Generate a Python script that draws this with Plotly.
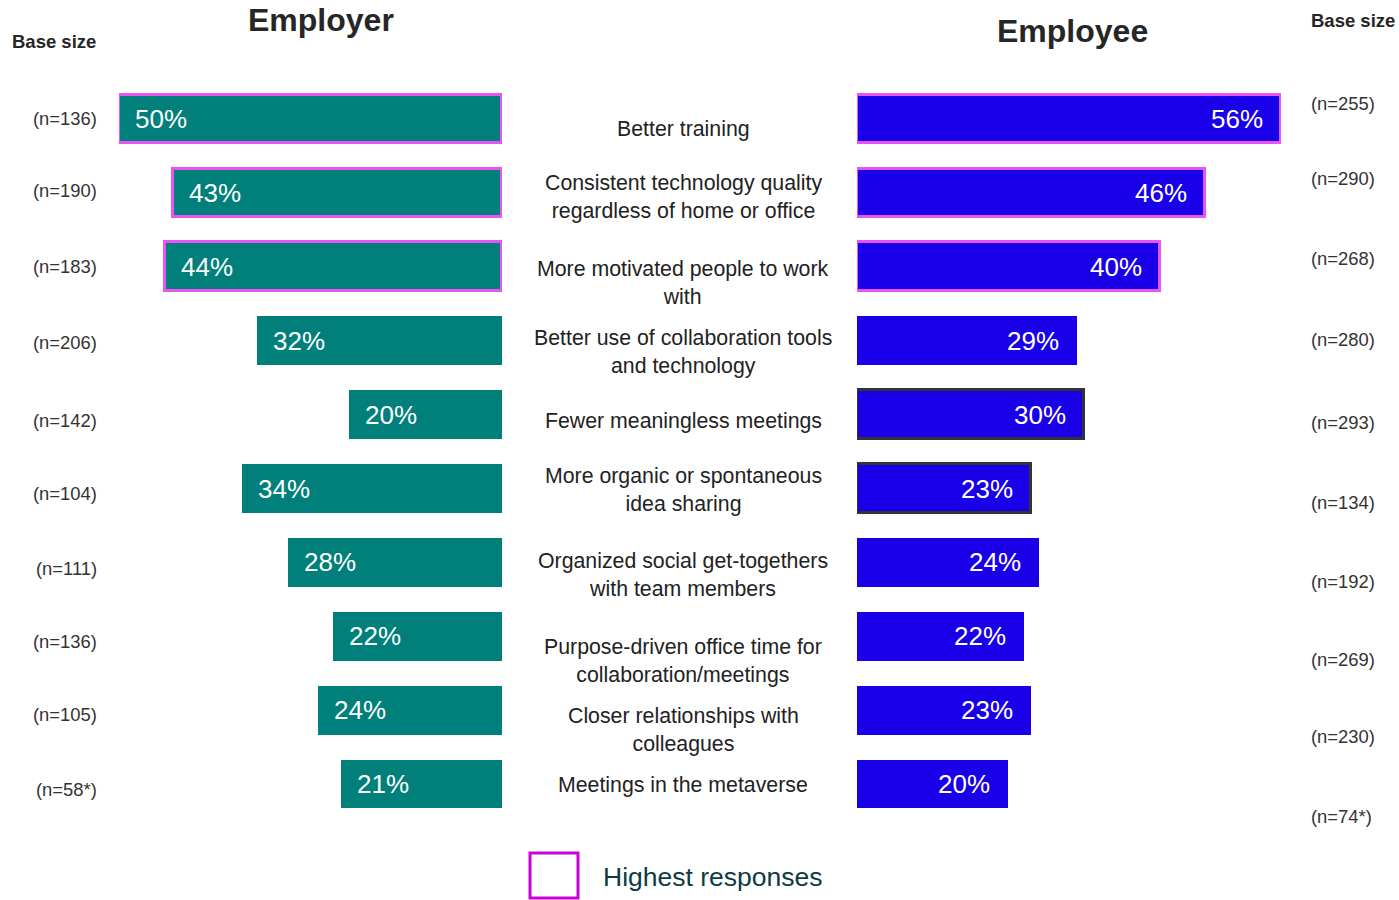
import plotly.graph_objects as go

categories = [
    "Better training",
    "Consistent technology quality<br>regardless of home or office",
    "More motivated people to work<br>with",
    "Better use of collaboration tools<br>and technology",
    "Fewer meaningless meetings",
    "More organic or spontaneous<br>idea sharing",
    "Organized social get-togethers<br>with team members",
    "Purpose-driven office time for<br>collaboration/meetings",
    "Closer relationships with<br>colleagues",
    "Meetings in the metaverse",
]
employer_values = [50, 43, 44, 32, 20, 34, 28, 22, 24, 21]
employee_values = [56, 46, 40, 29, 30, 23, 24, 22, 23, 20]
employer_base = ["(n=136)", "(n=190)", "(n=183)", "(n=206)", "(n=142)",
                 "(n=104)", "(n=111)", "(n=136)", "(n=105)", "(n=58*)"]
employee_base = ["(n=255)", "(n=290)", "(n=268)", "(n=280)", "(n=293)",
                 "(n=134)", "(n=192)", "(n=269)", "(n=230)", "(n=74*)"]
employer_highlight = [True, True, True, False, False, False, False, False, False, False]
employee_highlight = [True, True, True, False, False, False, False, False, False, False]
employee_outlined = [False, False, False, False, True, True, False, False, False, False]

W, H = 1399, 900
TEAL = "#007F7B"
BLUE = "#1A00E8"
MAGENTA = "#E855F0"
DARK = "#333333"
FONT = "Arial, Liberation Sans, sans-serif"

rows = list(range(len(categories)))

# layout offsets (pixels) for text that is not centered on bars
label_shift = [10, 4, 16, 11, 6, 1, 13, 25, 20, 1]
left_base_shift = [-1, -2, 0, 2, 6, 5, 6, 5, 4, 5]
right_base_shift = [-16, -14, -8, -1, 8, 14, 19, 23, 26, 32]

left_line_colors = [MAGENTA if h else "rgba(0,0,0,0)" for h in employer_highlight]
left_line_widths = [3 if h else 0 for h in employer_highlight]
right_line_colors = [MAGENTA if h else (DARK if o else "rgba(0,0,0,0)")
                     for h, o in zip(employee_highlight, employee_outlined)]
right_line_widths = [3 if (h or o) else 0 for h, o in zip(employee_highlight, employee_outlined)]

fig = go.Figure()
fig.add_trace(go.Bar(
    x=employer_values, y=rows, orientation="h", xaxis="x", yaxis="y",
    marker=dict(color=TEAL, line=dict(color=left_line_colors, width=left_line_widths)),
    width=0.66, showlegend=False, hoverinfo="skip",
))
fig.add_trace(go.Bar(
    x=employee_values, y=rows, orientation="h", xaxis="x2", yaxis="y",
    marker=dict(color=BLUE, line=dict(color=right_line_colors, width=right_line_widths)),
    width=0.66, showlegend=False, hoverinfo="skip",
))

# pixel -> data mapping for y: row i center at 119 + 73.9*i
top = -119 / 73.9
bottom = (H - 119) / 73.9

annotations = []
for i, v in enumerate(employer_values):
    annotations.append(dict(x=v, y=i, xref="x", yref="y", text=f"{v}%", showarrow=False,
                            xanchor="left", xshift=14, font=dict(family=FONT, size=26, color="white")))
for i, v in enumerate(employee_values):
    annotations.append(dict(x=v, y=i, xref="x2", yref="y", text=f"{v}%", showarrow=False,
                            xanchor="right", xshift=-16, font=dict(family=FONT, size=26, color="white")))
for i, c in enumerate(categories):
    annotations.append(dict(x=683 / W, y=i, xref="paper", yref="y", text=c, showarrow=False,
                            xanchor="center", yshift=-label_shift[i],
                            font=dict(family=FONT, size=21.3, color="#222222")))
for i, b in enumerate(employer_base):
    annotations.append(dict(x=99 / W, y=i, xref="paper", yref="y", text=b, showarrow=False,
                            xanchor="right", yshift=-left_base_shift[i],
                            font=dict(family=FONT, size=18.4, color="#333333")))
for i, b in enumerate(employee_base):
    annotations.append(dict(x=1309 / W, y=i, xref="paper", yref="y", text=b, showarrow=False,
                            xanchor="left", yshift=-right_base_shift[i],
                            font=dict(family=FONT, size=18.4, color="#333333")))

def py(p):
    return 1 - p / H

annotations += [
    dict(x=321 / W, y=py(20), xref="paper", yref="paper", text="<b>Employer</b>", showarrow=False,
         xanchor="center", yanchor="middle", font=dict(family=FONT, size=32, color="#262626")),
    dict(x=1072 / W, y=py(31), xref="paper", yref="paper", text="<b>Employee</b>", showarrow=False,
         xanchor="center", yanchor="middle", font=dict(family=FONT, size=32, color="#262626")),
    dict(x=54 / W, y=py(41), xref="paper", yref="paper", text="<b>Base size</b>", showarrow=False,
         xanchor="center", yanchor="middle", font=dict(family=FONT, size=18.5, color="#262626")),
    dict(x=1353 / W, y=py(21), xref="paper", yref="paper", text="<b>Base size</b>", showarrow=False,
         xanchor="center", yanchor="middle", font=dict(family=FONT, size=18.5, color="#262626")),
    dict(x=601 / W, y=py(877), xref="paper", yref="paper", text="Highest responses", showarrow=False,
         xanchor="left", yanchor="middle", font=dict(family=FONT, size=26.5, color="#0D3B3F")),
]

shapes = [dict(type="rect", xref="paper", yref="paper",
               x0=530 / W, x1=578 / W, y0=py(898), y1=py(853),
               line=dict(color="#CC00DD", width=3), fillcolor="rgba(0,0,0,0)")]

fig.update_layout(
    width=W, height=H,
    margin=dict(l=0, r=0, t=0, b=0),
    paper_bgcolor="white", plot_bgcolor="white",
    xaxis=dict(domain=[119 / W, 502 / W], range=[50, 0], visible=False, fixedrange=True),
    xaxis2=dict(domain=[857 / W, 1281 / W], range=[0, 56], visible=False, fixedrange=True),
    yaxis=dict(domain=[0, 1], range=[bottom, top], visible=False, fixedrange=True),
    annotations=annotations,
    shapes=shapes,
    bargap=0,
)

fig.write_html("out.html", config={"displayModeBar": False},
               post_script="document.body.style.margin='0';document.body.style.overflow='hidden';")
